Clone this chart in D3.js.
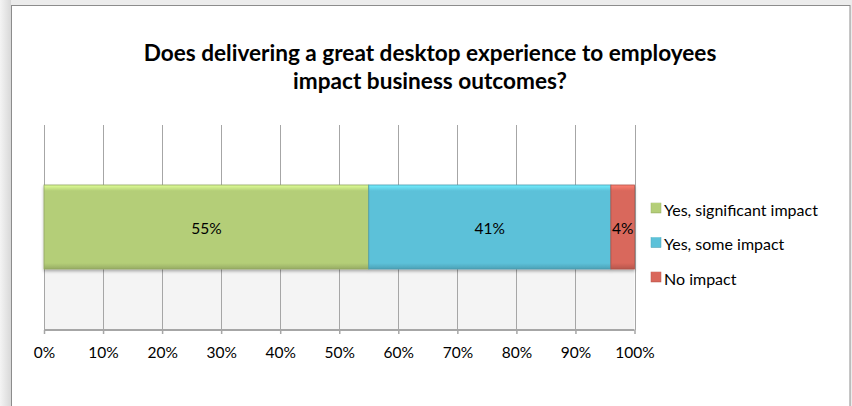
<!DOCTYPE html>
<html>
<head>
<meta charset="utf-8">
<script src="https://cdn.jsdelivr.net/npm/d3@7"></script>
<style>
  html, body { margin: 0; padding: 0; background: #fff; }
  svg { display: block; }
</style>
</head>
<body>
<svg id="chart" width="852" height="406"></svg>
<script>
// Survey answers and their shares (percent)
const categories = ["Yes, significant impact", "Yes, some impact", "No impact"];
const shares = [55, 41, 4];
const colors = ["#b4ce78", "#5cc1d9", "#d9675b"];
const tickValues = [0, 10, 20, 30, 40, 50, 60, 70, 80, 90, 100];
const titleLines = ["Does delivering a great desktop experience to employees", "impact business outcomes?"];

const svg = d3.select("#chart");
const FONT = "Lato, 'Open Sans', 'Liberation Sans', sans-serif";

const defs = svg.append("defs");

// page shadow around the chart frame
const sh = defs.append("linearGradient").attr("id", "lshadow").attr("x1", 0).attr("x2", 1);
sh.append("stop").attr("offset", 0).attr("stop-color", "#f4f4f4");
sh.append("stop").attr("offset", 1).attr("stop-color", "#d8d8d8");
svg.append("rect").attr("x", 0).attr("y", 0).attr("width", 852).attr("height", 406).attr("fill", "#ececec");
svg.append("rect").attr("x", 0).attr("y", 0).attr("width", 11).attr("height", 406).attr("fill", "url(#lshadow)");
svg.append("rect").attr("x", 11.5).attr("y", 5.5).attr("width", 838.5).attr("height", 410)
  .attr("fill", "#fff").attr("stroke", "#8c8c8c").attr("stroke-width", 1);

// plot geometry
const plot = { left: 44, right: 634.5, top: 125, bottom: 330, barTop: 185, barBottom: 269 };

const x = d3.scaleLinear().domain([0, 100]).range([plot.left, plot.right]);

// back wall: white above the bar, light gray floor below
svg.append("rect").attr("x", plot.left).attr("y", plot.barBottom)
  .attr("width", x(100) - x(0)).attr("height", plot.bottom - plot.barBottom).attr("fill", "#f4f4f4");

// vertical gridlines
svg.append("g").selectAll("line").data(tickValues).join("line")
  .attr("x1", d => Math.round(x(d)) + 0.5).attr("x2", d => Math.round(x(d)) + 0.5)
  .attr("y1", plot.top).attr("y2", plot.bottom)
  .attr("stroke", "#a6a6a6").attr("stroke-width", 1);

// bottom axis
const axis = d3.axisBottom(x).tickValues(tickValues).tickFormat(d => d + "%").tickSize(4).tickPadding(13);
const ag = svg.append("g").attr("transform", `translate(0,${plot.bottom})`).call(axis);
ag.select(".domain").attr("stroke", "#a6a6a6").attr("stroke-width", 2).attr("d", `M${x(0)},0H${x(100)}`);
ag.selectAll(".tick line").attr("stroke", "#a6a6a6").attr("stroke-width", 1.5);
ag.selectAll(".tick text").attr("font-family", FONT).attr("font-size", 15.5).attr("fill", "#000");

// stacked segments
let acc = 0;
const segs = shares.map((v, i) => { const s = { name: categories[i], v, x0: acc, x1: acc + v, c: colors[i] }; acc += v; return s; });

// bevel gradients per colour
segs.forEach((s, i) => {
  const g = defs.append("linearGradient").attr("id", "bev" + i).attr("x1", 0).attr("x2", 0).attr("y1", 0).attr("y2", 1);
  const base = d3.color(s.c);
  g.append("stop").attr("offset", 0).attr("stop-color", d3.color(s.c).brighter(0.6));
  g.append("stop").attr("offset", 0.07).attr("stop-color", base);
  g.append("stop").attr("offset", 0.93).attr("stop-color", base);
  g.append("stop").attr("offset", 1).attr("stop-color", d3.color(s.c).darker(0.5));
});

const filt = defs.append("filter").attr("id", "drop").attr("x", "-5%").attr("y", "-10%").attr("width", "110%").attr("height", "130%");
filt.append("feDropShadow").attr("dx", 0).attr("dy", 2).attr("stdDeviation", 1.5).attr("flood-color", "#000").attr("flood-opacity", 0.3);

const bars = svg.append("g").attr("filter", "url(#drop)");
bars.selectAll("rect").data(segs).join("rect")
  .attr("x", d => x(d.x0)).attr("width", d => x(d.x1) - x(d.x0))
  .attr("y", plot.barTop).attr("height", plot.barBottom - plot.barTop)
  .attr("fill", (d, i) => `url(#bev${i})`)
  .attr("stroke", d => d3.color(d.c).darker(0.6)).attr("stroke-width", 0.8);

// value labels
svg.append("g").selectAll("text").data(segs).join("text")
  .attr("x", d => (x(d.x0) + x(d.x1)) / 2).attr("y", (plot.barTop + plot.barBottom) / 2 + 1)
  .attr("text-anchor", "middle").attr("dominant-baseline", "central")
  .attr("font-family", FONT).attr("font-size", 15.5).attr("fill", "#000")
  .text(d => d.v + "%");

// legend
const lg = svg.append("g").selectAll("g").data(segs).join("g")
  .attr("transform", (d, i) => `translate(651,${208 + i * 34.5})`);
lg.append("rect").attr("x", 0).attr("y", -5).attr("width", 10).attr("height", 10)
  .attr("fill", (d, i) => `url(#bev${i})`).attr("stroke", d => d3.color(d.c).darker(0.4)).attr("stroke-width", 0.5);
lg.append("text").attr("x", 13).attr("y", 1).attr("dominant-baseline", "central")
  .attr("font-family", FONT).attr("font-size", 16).attr("fill", "#000").text(d => d.name);

// title
svg.append("g").selectAll("text").data(titleLines).join("text")
  .attr("x", 430).attr("y", (d, i) => 61 + i * 27.5)
  .attr("text-anchor", "middle")
  .attr("font-family", FONT).attr("font-weight", "bold").attr("font-size", 22.6).attr("fill", "#000")
  .text(d => d);
</script>
</body>
</html>
